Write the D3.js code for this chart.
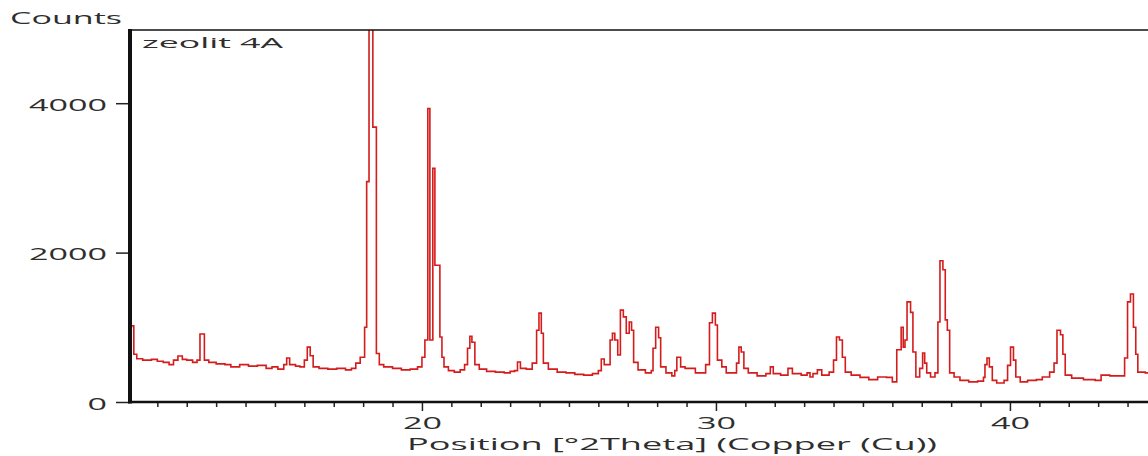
<!DOCTYPE html>
<meta charset="utf-8">
<style>
body { margin: 0; background: #fff; }
text { font-family: "Open Sans", sans-serif; fill: #2e2e2e; }
.trace { fill: none; stroke: #d41c1c; stroke-width: 1.6px; stroke-linejoin: miter; }
.tick line { stroke: #222; stroke-width: 1.5px; }
</style>
<body>
<script src="https://d3js.org/d3.v7.min.js"></script>
<script>

// scan: position [deg 2theta] and counts
var twoTheta = [10.05,10.12,10.2,10.3,10.5,10.8,11.0,11.2,11.4,11.55,11.7,11.85,12.0,12.2,12.35,12.45,12.6,12.75,
  13.0,13.3,13.5,13.8,14.1,14.4,14.7,14.9,15.1,15.3,15.4,15.5,15.7,15.85,16.0,16.1,16.2,16.3,16.5,16.8,17.1,17.4,
  17.6,17.75,17.9,18.05,18.12,18.2,18.33,18.45,18.55,18.7,19.0,19.3,19.6,19.85,20.0,20.1,20.2,20.27,20.37,20.44,
  20.61,20.68,20.75,20.9,21.1,21.3,21.45,21.55,21.63,21.7,21.8,21.95,22.2,22.5,22.8,23.0,23.15,23.25,23.35,23.55,
  23.75,23.9,23.98,24.06,24.13,24.3,24.6,24.9,25.2,25.5,25.8,26.0,26.1,26.2,26.4,26.48,26.56,26.66,26.75,26.85,
  26.95,27.05,27.13,27.2,27.35,27.6,27.8,27.86,27.95,28.05,28.12,28.3,28.5,28.6,28.67,28.8,28.95,29.2,29.3,29.5,
  29.65,29.78,29.88,29.98,30.05,30.2,30.35,30.6,30.7,30.78,30.86,30.95,31.1,31.4,31.7,31.85,31.95,32.2,32.45,32.6,
  32.9,33.1,33.2,33.3,33.45,33.6,33.85,34.0,34.1,34.2,34.3,34.4,34.6,34.9,35.2,35.5,35.8,36.0,36.15,36.3,36.37,
  36.43,36.5,36.62,36.7,36.8,36.93,37.03,37.1,37.17,37.3,37.45,37.55,37.62,37.72,37.8,37.87,37.95,38.1,38.3,38.6,
  38.9,39.1,39.15,39.22,39.3,39.4,39.55,39.8,39.92,40.02,40.12,40.2,40.35,40.6,40.9,41.1,41.35,41.5,41.6,41.72,
  41.8,41.88,42.1,42.5,42.9,43.1,43.4,43.7,43.9,44.0,44.1,44.2,44.28,44.35,44.6,44.9];
var counts = [1000,1020,640,580,560,570,545,530,500,560,615,570,560,530,560,910,560,530,
  510,500,470,500,480,490,450,470,440,500,590,500,480,470,560,735,620,470,450,440,450,430,
  450,520,600,1000,2950,5900,3680,650,500,470,450,430,440,470,600,830,3930,830,3130,1830,
  870,600,470,420,400,430,500,720,880,800,500,440,410,400,390,410,420,535,450,440,
  520,960,1190,920,520,440,400,390,370,360,380,420,575,500,830,920,830,630,1230,1140,
  920,1070,960,530,430,390,420,720,1000,860,470,390,350,420,600,470,450,450,390,390,
  500,1060,1190,1030,560,470,390,390,520,735,670,450,390,350,380,470,380,360,450,380,
  360,390,335,380,430,360,400,560,870,830,600,400,360,330,300,335,330,270,700,1000,735,
  830,1340,1200,670,335,450,655,520,390,335,390,1070,1890,1770,1100,960,390,335,290,270,
  280,330,500,590,470,290,255,290,490,735,560,335,270,290,300,335,400,520,960,900,
  640,360,320,300,290,360,350,350,590,1340,1445,1000,640,400,390,380];

var yTicks = [0, 2000, 4000];
var xMajor = [20, 30, 40];
var xMinor = d3.range(11, 45).filter(function(v){ return xMajor.indexOf(v) < 0; });

var W = 1148, H = 456;
var padL = 130, padT = 30, base = 402;

var svg = d3.select("body").append("svg").attr("width", W).attr("height", H);

var x = d3.scaleLinear().domain([10.07, 45]).range([padL, padL + 34.93 * 29.4]);
var y = d3.scaleLinear().domain([0, 4980]).range([base, padT]);

// stretched look of the original lettering
function stretch(sel, perChar) {
  sel.attr("lengthAdjust", "spacingAndGlyphs")
     .attr("textLength", function(){ return this.textContent.length * perChar; });
}

svg.append("clipPath").attr("id", "plot")
  .append("rect").attr("x", padL).attr("y", padT).attr("width", W - padL).attr("height", base - padT);

var pts = twoTheta.map(function(t, i){ return [t, counts[i]]; });
var line = d3.line().x(d => x(d[0])).y(d => y(d[1])).curve(d3.curveStepAfter);

svg.append("path").attr("class", "trace").attr("clip-path", "url(#plot)")
  .attr("d", line(pts));

// x axis, minor then major ticks
svg.append("g").attr("transform", "translate(0," + base + ")")
  .call(d3.axisBottom(x).tickValues(xMinor).tickSize(5).tickFormat(""))
  .call(g => g.select(".domain").remove());
var gx = svg.append("g").attr("transform", "translate(0," + base + ")")
  .call(d3.axisBottom(x).tickValues(xMajor).tickSize(9).tickPadding(6).tickFormat(d3.format("d")))
  .call(g => g.select(".domain").remove());
gx.selectAll("text").attr("font-size", 16).attr("fill", "#2e2e2e").attr("dy", "0.72em")
  .attr("text-anchor", "start").attr("x", function(){ return -this.textContent.length * 19.5 / 2; })
  .call(stretch, 19.5);

var gy = svg.append("g").attr("transform", "translate(" + padL + ",0)")
  .call(d3.axisLeft(y).tickValues(yTicks).tickSize(14).tickFormat(d3.format("d")))
  .call(g => g.select(".domain").remove());
gy.selectAll("text").attr("font-size", 16).attr("fill", "#2e2e2e").attr("dy", "0.45em")
  .attr("text-anchor", "start").attr("x", function(){ return -23 - this.textContent.length * 19.5; })
  .call(stretch, 19.5);

// frame
svg.append("line").attr("x1", padL).attr("x2", W).attr("y1", padT).attr("y2", padT)
  .attr("stroke", "#111").attr("stroke-width", 1.6);
svg.append("line").attr("x1", padL - 2).attr("x2", W).attr("y1", base).attr("y2", base)
  .attr("stroke", "#111").attr("stroke-width", 2.6);
svg.append("line").attr("x1", padL).attr("x2", padL).attr("y1", padT - 1).attr("y2", base + 1.5)
  .attr("stroke", "#111").attr("stroke-width", 4);

// labels
svg.append("text").attr("x", 10).attr("y", 24).attr("font-size", 16).text("Counts")
  .attr("lengthAdjust", "spacingAndGlyphs").attr("textLength", 112);
svg.append("text").attr("x", 142).attr("y", 48).attr("font-size", 15).text("zeolit 4A")
  .attr("lengthAdjust", "spacingAndGlyphs").attr("textLength", 141);
svg.append("text").attr("x", 407).attr("y", 450).attr("font-size", 16)
  .text("Position [°2Theta] (Copper (Cu))")
  .attr("lengthAdjust", "spacingAndGlyphs").attr("textLength", 530);

</script>
</body>
</html>
